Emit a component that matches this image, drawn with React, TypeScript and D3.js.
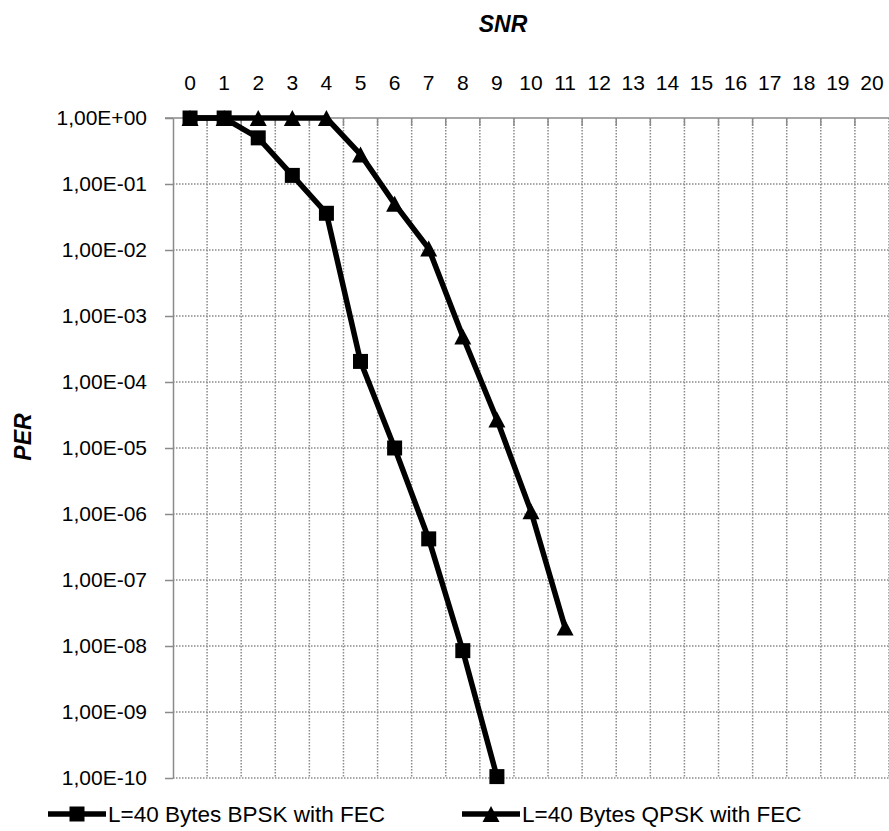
import React, { useEffect, useRef } from 'react';
import * as d3 from 'd3';

// x categories (SNR)
const snrLabels = ['0', '1', '2', '3', '4', '5', '6', '7', '8', '9', '10', '11', '12', '13', '14', '15', '16', '17', '18', '19', '20'];

// y ticks (PER, log axis)
const perTicks = [1, 1e-1, 1e-2, 1e-3, 1e-4, 1e-5, 1e-6, 1e-7, 1e-8, 1e-9, 1e-10];
const perTickLabels = ['1,00E+00', '1,00E-01', '1,00E-02', '1,00E-03', '1,00E-04', '1,00E-05', '1,00E-06', '1,00E-07', '1,00E-08', '1,00E-09', '1,00E-10'];

// series
const bpskSnr = ['0', '1', '2', '3', '4', '5', '6', '7', '8', '9'];
const bpskPer = [1, 1, 0.5, 0.135, 0.036, 2.05e-4, 1e-5, 4.2e-7, 8.5e-9, 1.05e-10];
const qpskSnr = ['0', '1', '2', '3', '4', '5', '6', '7', '8', '9', '10', '11'];
const qpskPer = [1, 1, 1, 1, 1, 0.28, 0.05, 0.0105, 4.9e-4, 2.7e-5, 1.1e-6, 1.9e-8];

const seriesNames = ['L=40 Bytes BPSK with FEC', 'L=40 Bytes QPSK with FEC'];

const FONT = "'Liberation Sans', Arial, sans-serif";

const App = () => {
  const svgRef = useRef<SVGSVGElement>(null);

  useEffect(() => {
    const svg = d3.select(svgRef.current);
    svg.selectAll('*').remove();

    const W = 889;
    const H = 831;
    const margin = { top: 118, right: 0, bottom: 53, left: 173 };
    const width = W - margin.left - margin.right;
    const height = H - margin.top - margin.bottom;

    svg.attr('width', W).attr('height', H);

    const g = svg.append('g').attr('transform', `translate(${margin.left},${margin.top})`);

    const x = d3.scaleBand().domain(snrLabels).range([0, width]).paddingInner(0).paddingOuter(0);
    const cx = (d: string) => (x(d) as number) + x.bandwidth() / 2;
    const y = d3.scaleLog().domain([1e-10, 1]).range([height, 0]);

    const gridColor = '#8a8a8a';

    // horizontal gridlines
    g.append('g')
      .selectAll('line')
      .data(perTicks.slice(1))
      .enter().append('line')
      .attr('x1', 0)
      .attr('x2', width)
      .attr('y1', d => y(d))
      .attr('y2', d => y(d))
      .style('stroke', gridColor)
      .style('stroke-width', 1.5)
      .style('stroke-dasharray', '1.5,1.5');

    // vertical gridlines at category boundaries
    g.append('g')
      .selectAll('line')
      .data(snrLabels.slice(1).concat(['end']))
      .enter().append('line')
      .attr('x1', (d, i) => (i < snrLabels.length - 1 ? (x(d) as number) : width))
      .attr('x2', (d, i) => (i < snrLabels.length - 1 ? (x(d) as number) : width))
      .attr('y1', 0)
      .attr('y2', height)
      .style('stroke', gridColor)
      .style('stroke-width', 1.5)
      .style('stroke-dasharray', '1.5,1.5');

    // y axis (left)
    const yAxis = g.append('g')
      .call(d3.axisLeft(y)
        .tickValues(perTicks)
        .tickFormat((d, i) => perTickLabels[i])
        .tickSize(8)
        .tickPadding(18)
        .tickSizeOuter(0)
      );
    yAxis.selectAll('.domain, .tick line').style('stroke', gridColor).style('stroke-width', 1.5);
    yAxis.selectAll('text')
      .style('fill', '#000')
      .style('font-family', FONT)
      .style('font-size', '21px');

    // x axis (top), ticks pointing into the plot
    const xAxis = g.append('g')
      .call(d3.axisTop(x).tickSize(0).tickPadding(28).tickSizeOuter(0));
    xAxis.select('.domain').remove();
    xAxis.selectAll('text')
      .style('fill', '#000')
      .style('font-family', FONT)
      .style('font-size', '21px');

    g.append('line')
      .attr('x1', -8).attr('x2', width)
      .attr('y1', 0).attr('y2', 0)
      .style('stroke', gridColor).style('stroke-width', 1.5);

    g.append('g')
      .selectAll('line')
      .data(snrLabels.slice(1))
      .enter().append('line')
      .attr('x1', d => x(d) as number)
      .attr('x2', d => x(d) as number)
      .attr('y1', 0)
      .attr('y2', 8)
      .style('stroke', gridColor)
      .style('stroke-width', 1.5);

    // axis titles
    svg.append('text')
      .attr('x', 503)
      .attr('y', 32)
      .attr('text-anchor', 'middle')
      .style('font-family', FONT)
      .style('font-size', '23px')
      .style('font-weight', 'bold')
      .style('font-style', 'italic')
      .text('SNR');

    svg.append('text')
      .attr('transform', 'translate(31,437) rotate(-90)')
      .attr('text-anchor', 'middle')
      .style('font-family', FONT)
      .style('font-size', '23px')
      .style('font-weight', 'bold')
      .style('font-style', 'italic')
      .text('PER');

    const line = d3.line<[string, number]>()
      .x(d => cx(d[0]))
      .y(d => y(d[1]));

    const triPath = (w: number, h: number) => `M0,${-h / 2}L${w / 2},${h / 2}L${-w / 2},${h / 2}Z`;
    const sqPath = d3.symbol(d3.symbolSquare, 225)() as string;

    const qpsk: [string, number][] = qpskSnr.map((s, i) => [s, qpskPer[i]]);
    const bpsk: [string, number][] = bpskSnr.map((s, i) => [s, bpskPer[i]]);

    // QPSK first, BPSK drawn on top
    g.append('path')
      .datum(qpsk)
      .attr('d', line)
      .style('fill', 'none')
      .style('stroke', '#000')
      .style('stroke-width', 5.5);

    g.selectAll('.tri')
      .data(qpsk)
      .enter().append('path')
      .attr('class', 'tri')
      .attr('transform', d => `translate(${cx(d[0])},${y(d[1])})`)
      .attr('d', triPath(17, 16))
      .style('fill', '#000');

    g.append('path')
      .datum(bpsk)
      .attr('d', line)
      .style('fill', 'none')
      .style('stroke', '#000')
      .style('stroke-width', 5.5);

    g.selectAll('.sq')
      .data(bpsk)
      .enter().append('path')
      .attr('class', 'sq')
      .attr('transform', d => `translate(${cx(d[0])},${y(d[1])})`)
      .attr('d', sqPath)
      .style('fill', '#000');

    // legend
    const legend = svg.append('g');
    const legendItems = [
      { name: seriesNames[0], x0: 48, marker: 'sq' },
      { name: seriesNames[1], x0: 462, marker: 'tri' },
    ];
    const ly = 814;
    legendItems.forEach(item => {
      legend.append('line')
        .attr('x1', item.x0).attr('x2', item.x0 + 58)
        .attr('y1', ly).attr('y2', ly)
        .style('stroke', '#000').style('stroke-width', 5.5);
      legend.append('path')
        .attr('transform', `translate(${item.x0 + 29},${ly})`)
        .attr('d', item.marker === 'sq' ? sqPath : triPath(17, 16))
        .style('fill', '#000');
      legend.append('text')
        .attr('x', item.x0 + 60)
        .attr('y', ly + 8)
        .style('font-family', FONT)
        .style('font-size', '22.5px')
        .text(item.name);
    });
  }, []);

  return <svg ref={svgRef} style={{ position: 'absolute', left: 0, top: 0, background: '#fff' }}></svg>;
};

export default App;
